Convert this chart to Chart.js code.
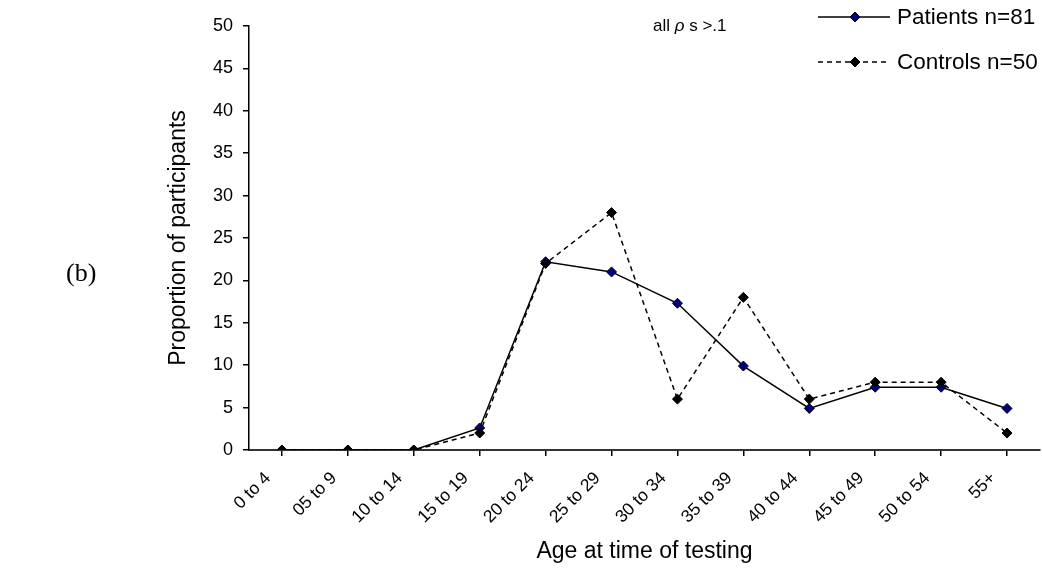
<!DOCTYPE html>
<html>
<head>
<meta charset="utf-8">
<script src="https://cdn.jsdelivr.net/npm/chart.js@4.4.0/dist/chart.umd.min.js"></script>
<style>
  body { margin: 0; overflow: hidden; background: #fff; }
  #wrap { width: 1046px; height: 569px; position: relative; }
</style>
</head>
<body>
<div id="wrap"><canvas id="chart"></canvas></div>
<script>
const ageGroups = ['0 to 4', '05 to 9', '10 to 14', '15 to 19', '20 to 24', '25 to 29',
                   '30 to 34', '35 to 39', '40 to 44', '45 to 49', '50 to 54', '55+'];
const patients = [0, 0, 0, 2.6, 22.2, 21.0, 17.3, 9.9, 4.9, 7.4, 7.4, 4.9];
const controls = [0, 0, 0, 2, 22, 28, 6, 18, 6, 8, 8, 2];
const yTicks = { min: 0, max: 50, step: 5 };

const FONT = '"Liberation Sans", Arial, sans-serif';

// legend, the note and the panel letter are drawn by hand
const extras = {
    id: 'extras',
    afterDraw(chart) {
        const ctx = chart.ctx;
        ctx.save();
        // panel letter
        ctx.fillStyle = '#000';
        ctx.font = '26px "Liberation Serif", "Times New Roman", serif';
        ctx.textBaseline = 'middle';
        ctx.textAlign = 'left';
        ctx.fillText('(b)', 66, 274);

        // note
        ctx.font = '17px ' + FONT;
        let x = 653;
        ctx.fillText('all ', x, 26);
        x += ctx.measureText('all ').width;
        ctx.font = 'italic 17px ' + FONT;
        ctx.fillText('\u03C1', x, 26);
        x += ctx.measureText('\u03C1 ').width;
        ctx.font = '17px ' + FONT;
        ctx.fillText('s >.1', x, 26);

        // legend
        const rows = [{ ds: chart.data.datasets[0], y: 17 }, { ds: chart.data.datasets[1], y: 62 }];
        rows.forEach(r => {
            ctx.strokeStyle = '#000';
            ctx.lineWidth = 1.5;
            ctx.setLineDash(r.ds.borderDash || []);
            ctx.beginPath();
            ctx.moveTo(818, r.y);
            ctx.lineTo(890, r.y);
            ctx.stroke();
            ctx.setLineDash([]);
            ctx.fillStyle = r.ds.pointBackgroundColor;
            ctx.beginPath();
            ctx.moveTo(855, r.y - 5);
            ctx.lineTo(860, r.y);
            ctx.lineTo(855, r.y + 5);
            ctx.lineTo(850, r.y);
            ctx.closePath();
            ctx.fill();
            ctx.lineWidth = 1;
            ctx.stroke();
            ctx.fillStyle = '#000';
            ctx.font = '22.5px ' + FONT;
            ctx.fillText(r.ds.label, 897, r.y + 1);
        });
        ctx.restore();
    }
};

new Chart(document.getElementById('chart'), {
    type: 'line',
    data: {
        labels: ageGroups,
        datasets: [{
            label: 'Patients n=81',
            data: patients,
            order: 1,
            borderColor: '#000',
            borderWidth: 1.5,
            pointStyle: 'rectRot',
            pointRadius: 5,
            pointBackgroundColor: '#000080',
            pointBorderColor: '#000',
            pointBorderWidth: 1,
            tension: 0
        }, {
            label: 'Controls n=50',
            data: controls,
            order: 0,
            borderColor: '#000',
            borderWidth: 1.5,
            borderDash: [5, 4],
            pointStyle: 'rectRot',
            pointRadius: 5,
            pointBackgroundColor: '#000',
            pointBorderColor: '#000',
            pointBorderWidth: 1,
            tension: 0
        }]
    },
    options: {
        responsive: true,
        maintainAspectRatio: false,
        animation: false,
        layout: { padding: { left: 165, top: 26, right: 2, bottom: 4 } },
        plugins: {
            legend: { display: false },
            tooltip: { enabled: false }
        },
        scales: {
            x: {
                offset: true,
                grid: { drawOnChartArea: false, drawTicks: true, tickLength: 6, color: '#000', lineWidth: 1.5 },
                border: { color: '#333', width: 2 },
                ticks: {
                    color: '#000',
                    font: { family: FONT, size: 17.5 },
                    maxRotation: 45,
                    minRotation: 45,
                    autoSkip: false,
                    labelOffset: -14,
                    padding: 12
                },
                title: {
                    display: true,
                    text: 'Age at time of testing',
                    color: '#000',
                    font: { family: FONT, size: 23 },
                    padding: 0
                },
                afterFit(scale) { scale.height = 115; }
            },
            y: {
                min: yTicks.min,
                max: yTicks.max,
                grid: { drawOnChartArea: false, drawTicks: true, tickLength: 6, color: '#000', lineWidth: 1.5 },
                border: { color: '#000', width: 1.5 },
                ticks: {
                    stepSize: yTicks.step,
                    color: '#000',
                    font: { family: FONT, size: 18 },
                    padding: 10
                },
                title: {
                    display: true,
                    text: 'Proportion of participants',
                    color: '#000',
                    font: { family: FONT, size: 23 },
                    padding: 0
                },
                afterFit(scale) { scale.width = 84; }
            }
        }
    },
    plugins: [extras]
});
</script>
</body>
</html>
